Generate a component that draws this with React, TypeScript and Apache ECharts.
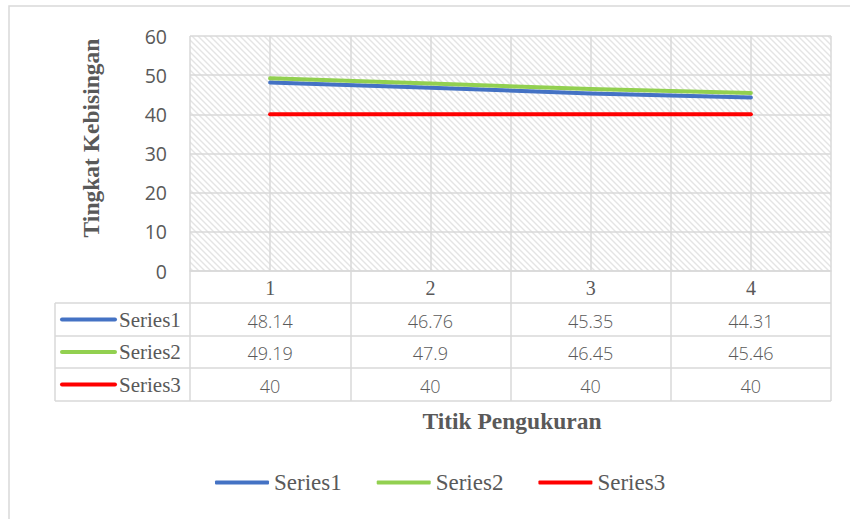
import React, { useEffect, useRef } from "react";
import * as echarts from "echarts";

const categories = ["1", "2", "3", "4"];
const seriesNames = ["Series1", "Series2", "Series3"];
const series1 = [48.14, 46.76, 45.35, 44.31];
const series2 = [49.19, 47.9, 46.45, 45.46];
const series3 = [40, 40, 40, 40];
const seriesColors = ["#4472C4", "#92D050", "#FF0000"];
const yMin = 0;
const yMax = 60;
const yInterval = 10;
const yTitle = "Tingkat Kebisingan";
const xTitle = "Titik Pengukuran";

const W = 850;
const H = 519;
const GRID_LEFT = 190;
const GRID_RIGHT_X = 831;
const GRID_TOP = 36;
const GRID_BOTTOM_Y = 271;
const ROW_LINES = [32, 65, 97, 130];
const TABLE_LEFT = 55;
const TEXT = "#595959";
const LINE = "#d9d9d9";
const SERIF = "'Liberation Serif', 'Times New Roman', serif";
const SANS = "'Open Sans', 'Noto Sans', sans-serif";

function makeHatch(): HTMLCanvasElement {
  const c = document.createElement("canvas");
  const s = 6;
  c.width = s;
  c.height = s;
  const ctx = c.getContext("2d")!;
  ctx.fillStyle = "#ffffff";
  ctx.fillRect(0, 0, s, s);
  ctx.strokeStyle = "#e4e4e4";
  ctx.lineWidth = 1.4;
  ctx.beginPath();
  ctx.moveTo(-1, -1);
  ctx.lineTo(s + 1, s + 1);
  ctx.moveTo(-1, s - 1);
  ctx.lineTo(1, s + 1);
  ctx.moveTo(s - 1, -1);
  ctx.lineTo(s + 1, 1);
  ctx.stroke();
  return c;
}

export default function App() {
  const ref = useRef<HTMLDivElement>(null);
  useEffect(() => {
    if (!ref.current) return;
    const chart = echarts.init(ref.current, undefined, { renderer: "svg" });
    const allSeries = [series1, series2, series3];
    const tableH = ROW_LINES[ROW_LINES.length - 1];

    const graphics: any[] = [
      {
        type: "rect",
        shape: { x: 9, y: 6, width: W, height: H },
        style: { fill: "none", stroke: LINE, lineWidth: 1.5 },
        silent: true,
      },
      {
        type: "line",
        shape: { x1: TABLE_LEFT, y1: GRID_BOTTOM_Y + ROW_LINES[0], x2: TABLE_LEFT, y2: GRID_BOTTOM_Y + tableH },
        style: { stroke: LINE, lineWidth: 1.5 },
      },
      {
        type: "text",
        x: 91,
        y: 138,
        rotation: Math.PI / 2,
        style: {
          text: yTitle,
          fill: TEXT,
          font: `bold 23.5px ${SERIF}`,
          textAlign: "center",
          textVerticalAlign: "middle",
        },
      },
      {
        type: "text",
        x: 512,
        y: 421,
        style: {
          text: xTitle,
          fill: TEXT,
          font: `bold 23.5px ${SERIF}`,
          textAlign: "center",
          textVerticalAlign: "middle",
        },
      },
    ];
    ROW_LINES.forEach((r) => {
      graphics.push({
        type: "line",
        shape: { x1: TABLE_LEFT, y1: GRID_BOTTOM_Y + r, x2: GRID_RIGHT_X, y2: GRID_BOTTOM_Y + r },
        style: { stroke: LINE, lineWidth: 1.5 },
      });
    });
    seriesNames.forEach((name, i) => {
      const cy = GRID_BOTTOM_Y + (ROW_LINES[i] + ROW_LINES[i + 1]) / 2;
      graphics.push({
        type: "line",
        shape: { x1: 62, y1: cy, x2: 115, y2: cy },
        style: { stroke: seriesColors[i], lineWidth: 4, lineCap: "round" },
      });
      graphics.push({
        type: "text",
        x: 119,
        y: cy,
        style: {
          text: name,
          fill: TEXT,
          font: `21px ${SERIF}`,
          textAlign: "left",
          textVerticalAlign: "middle",
        },
      });
    });

    const option: any = {
      animation: false,
      grid: {
        left: GRID_LEFT,
        top: GRID_TOP,
        width: GRID_RIGHT_X - GRID_LEFT,
        height: GRID_BOTTOM_Y - GRID_TOP,
        show: true,
        borderWidth: 0,
        backgroundColor: { image: makeHatch(), repeat: "repeat" },
      },
      legend: {
        data: seriesNames,
        left: 210,
        top: 466,
        icon: "roundRect",
        itemWidth: 54,
        itemHeight: 4,
        itemGap: 35,
        textStyle: { fontFamily: SERIF, fontSize: 23, color: TEXT },
      },
      xAxis: [
        {
          type: "value",
          min: 0.5,
          max: 4.5,
          interval: 0.5,
          axisLine: { show: false },
          axisTick: { show: false },
          axisLabel: { show: false },
          splitLine: { show: true, lineStyle: { color: LINE, width: 1.5 } },
        },
        {
          type: "category",
          data: categories,
          boundaryGap: true,
          position: "bottom",
          axisLine: { show: true, lineStyle: { color: LINE, width: 1.5 } },
          axisTick: { show: true, length: tableH, lineStyle: { color: LINE, width: 1.5 } },
          splitLine: { show: false },
          axisLabel: {
            interval: 0,
            margin: 1,
            formatter: (v: string, i: number) =>
              [`{h|${v}}`, ...allSeries.map((s) => `{v|${s[i]}}`)].join("\n"),
            rich: {
              h: { fontFamily: SERIF, fontSize: 20, color: TEXT, lineHeight: 32.5, align: "center" },
              v: { fontFamily: SANS, fontSize: 18, fontWeight: 300, color: TEXT, lineHeight: 32.5, align: "center" },
            },
          },
        },
      ],
      yAxis: {
        type: "value",
        min: yMin,
        max: yMax,
        interval: yInterval,
        axisLine: { show: false },
        axisTick: { show: false },
        axisLabel: { margin: 23, fontFamily: SANS, fontSize: 19.5, color: TEXT },
        splitLine: { show: true, lineStyle: { color: LINE, width: 1.5 } },
      },
      series: allSeries.map((d, i) => ({
        name: seriesNames[i],
        type: "line",
        xAxisIndex: 1,
        data: d,
        symbol: "none",
        showSymbol: false,
        color: seriesColors[i],
        lineStyle: { width: 4, color: seriesColors[i], cap: "round", join: "round" },
      })),
      graphic: graphics,
    };
    chart.setOption(option);
    return () => chart.dispose();
  }, []);
  return (
    <div
      ref={ref}
      style={{ position: "fixed", left: 0, top: 0, width: W, height: H, background: "#fff" }}
    />
  );
}
